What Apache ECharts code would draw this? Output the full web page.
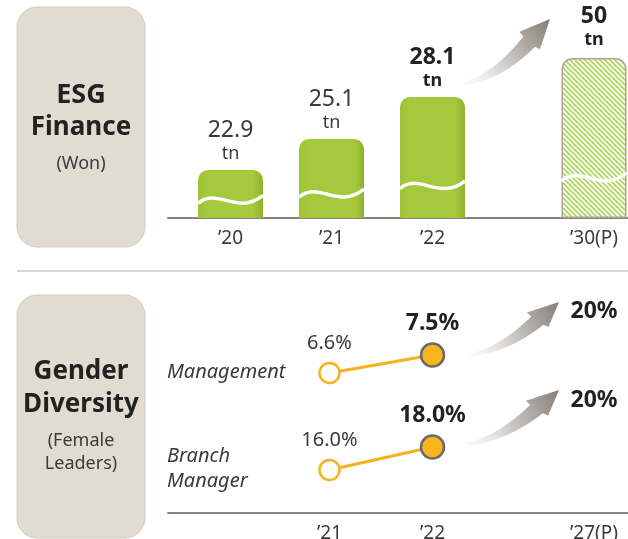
<!DOCTYPE html>
<html>
<head>
<meta charset="utf-8">
<script src="https://cdn.jsdelivr.net/npm/echarts@6.0.0/dist/echarts.min.js"></script>
<style>
  html, body { margin: 0; padding: 0; background: #fff; }
  #chart { width: 628px; height: 539px; }
</style>
</head>
<body>
<div id="chart"></div>
<script>
// ESG finance (trillion won)
const financeYears = ['’20', '’21', '’22'];
const financeValues = [22.9, 25.1, 28.1];
const financeTargetYear = ['’30(P)'];
const financeTarget = [50];
const financeUnit = 'tn';

// gender diversity (female leaders, %)
const diversityYears = ['’21', '’22'];
const managementValues = [6.6, 7.5];
const branchValues = [16.0, 18.0];
const diversityTargetYear = ['’27(P)'];
const diversityTargets = [20, 20];
const rowNames = ['Management', 'Branch\nManager'];

const FONT = '"Noto Sans", "Open Sans", sans-serif';
const TEXT = '#3a3a3a';
const DARK = '#222';
const BASE = '#8a827a';
const BAR_W = 65;

const chart = echarts.init(document.getElementById('chart'), null, { renderer: 'canvas' });

function hatch() {
  const c = document.createElement('canvas');
  c.width = 5; c.height = 5;
  const g = c.getContext('2d');
  g.fillStyle = '#f5faea';
  g.fillRect(0, 0, 5, 5);
  g.strokeStyle = '#a2cf45';
  g.lineWidth = 1.3;
  g.beginPath();
  g.moveTo(-1, -1); g.lineTo(6, 6);
  g.moveTo(-1, 4); g.lineTo(1, 6);
  g.moveTo(4, -1); g.lineTo(6, 1);
  g.stroke();
  return c;
}

// white wavy "break" line across each bar
function renderWave(params, api) {
  const top = api.coord([api.value(0), api.value(1)]);
  const cs = params.coordSys;
  const bottom = cs.y + cs.height;
  const h = bottom - top[1];
  const y0 = bottom - (8 + 0.2 * h);
  const xl = top[0] - BAR_W / 2, xr = top[0] + BAR_W / 2;
  return {
    type: 'bezierCurve',
    shape: {
      x1: xl, y1: y0 + 3,
      cpx1: xl + BAR_W * 0.3, cpy1: y0 - 14,
      cpx2: xr - BAR_W * 0.4, cpy2: y0 + 16,
      x2: xr, y2: y0 - 5
    },
    style: { stroke: '#fff', lineWidth: 3.5, fill: null }
  };
}

function quad(p0, c, p1, n) {
  const pts = [];
  for (let i = 0; i <= n; i++) {
    const t = i / n, u = 1 - t;
    pts.push([u * u * p0[0] + 2 * u * t * c[0] + t * t * p1[0],
              u * u * p0[1] + 2 * u * t * c[1] + t * t * p1[1]]);
  }
  return pts;
}

// gradient arrow, shape measured for a tail->tip of (87, -63)
function arrow(tail, tip) {
  const sx = (tip[0] - tail[0]) / 87, sy = (tip[1] - tail[1]) / -63;
  const raw = [].concat(
    quad([0, 0], [29.8, -7.4], [60.3, -45.3], 16),
    [[56.3, -50.3], [87, -63], [77, -32.7]],
    quad([72, -35.3], [39, -1.9], [2, 3], 16)
  );
  return {
    type: 'polygon',
    shape: { points: raw.map(p => [tail[0] + p[0] * sx, tail[1] + p[1] * sy]) },
    style: {
      fill: new echarts.graphic.LinearGradient(0, 1, 1, 0, [
        { offset: 0, color: 'rgba(242,240,237,0.3)' },
        { offset: 0.45, color: '#cdc9c4' },
        { offset: 1, color: '#857e77' }
      ])
    }
  };
}

function txt(text, x, y, size, weight, align, style) {
  return {
    type: 'text',
    style: {
      text: text, x: x, y: y,
      fontSize: size, fontWeight: weight || 'normal', fontStyle: style || 'normal',
      fontFamily: FONT, fill: weight === 'bold' ? DARK : TEXT,
      textAlign: align || 'center', align: align || 'center',
      textVerticalAlign: 'middle', verticalAlign: 'middle', lineHeight: 25
    }
  };
}

const barFill = new echarts.graphic.LinearGradient(0, 0, 1, 0, [
  { offset: 0, color: '#9cc236' },
  { offset: 0.12, color: '#a5c93c' },
  { offset: 0.85, color: '#a5c93c' },
  { offset: 1, color: '#8fb22f' }
]);

const barRich = {
  v: { fontSize: 23, lineHeight: 26, color: TEXT, fontFamily: FONT },
  u: { fontSize: 18, lineHeight: 22, color: TEXT, fontFamily: FONT },
  vb: { fontSize: 23, lineHeight: 26, color: DARK, fontFamily: FONT, fontWeight: 'bold' },
  ub: { fontSize: 18, lineHeight: 22, color: DARK, fontFamily: FONT, fontWeight: 'bold' }
};

const pctRich = {
  r: { fontSize: 20, lineHeight: 24, color: TEXT, fontFamily: FONT },
  b: { fontSize: 23, lineHeight: 26, color: DARK, fontFamily: FONT, fontWeight: 'bold' }
};

const openDot = { color: '#fff', borderColor: '#f5b320', borderWidth: 2.5 };
const fullDot = { color: '#f8b51c', borderColor: '#6a6a6a', borderWidth: 2.5 };

function lineData(values) {
  return values.map((v, i) => ({
    value: v,
    symbolSize: i ? 23 : 20,
    itemStyle: i ? fullDot : openDot
  }));
}

const lineLabel = {
  show: true, position: 'top', distance: 6,
  formatter: p => p.dataIndex ? `{b|${p.value.toFixed(1)}%}` : `{r|${p.value.toFixed(1)}%}`,
  rich: pctRich
};

const hidden = { show: false };
const catAxis = (grid, data, labels) => ({
  gridIndex: grid, type: 'category', data: data,
  axisLine: hidden, axisTick: hidden, splitLine: hidden,
  axisLabel: { show: labels, color: TEXT, fontSize: 19, fontFamily: FONT, margin: 11 }
});
const baseAxis = grid => ({
  gridIndex: grid, type: 'value', min: 0, max: 1,
  axisLine: { show: true, lineStyle: { color: BASE, width: 2 } },
  axisTick: hidden, axisLabel: hidden, splitLine: hidden
});
const yHidden = (grid, min, max) => ({
  gridIndex: grid, type: 'value', min: min, max: max, show: false, splitLine: hidden
});
const g = (o) => Object.assign({ outerBoundsMode: 'none', containLabel: false }, o);

const option = {
  animation: false,
  backgroundColor: '#fff',
  grid: [
    g({ left: 168, right: 0, top: 100, height: 118 }),
    g({ left: 180, width: 303, top: 58, height: 160 }),
    g({ left: 561, width: 66, top: 58, height: 160 }),
    g({ left: 168, right: 0, top: 400, height: 113 }),
    g({ left: 278, width: 206, top: 300, height: 100 }),
    g({ left: 278, width: 206, top: 400, height: 113 }),
    g({ left: 557, width: 74, top: 400, height: 113 })
  ],
  xAxis: [
    baseAxis(0),
    catAxis(1, financeYears, true),
    catAxis(2, financeTargetYear, true),
    baseAxis(3),
    catAxis(4, diversityYears, false),
    catAxis(5, diversityYears, true),
    catAxis(6, diversityTargetYear, true)
  ],
  yAxis: [
    yHidden(0, 0, 1),
    yHidden(1, 19.48, 30.88),
    yHidden(2, 0, 50),
    yHidden(3, 0, 1),
    yHidden(4, 5.25, 10.25),
    yHidden(5, 12.26, 22.09),
    yHidden(6, 0, 1)
  ],
  series: [
    {
      type: 'bar', xAxisIndex: 1, yAxisIndex: 1, barWidth: BAR_W, z: 2,
      data: financeValues,
      itemStyle: { color: barFill, borderRadius: [10, 10, 0, 0] },
      label: {
        show: true, position: 'top', distance: 5,
        formatter: p => p.dataIndex === financeValues.length - 1
          ? `{vb|${p.value}}\n{ub|${financeUnit}}` : `{v|${p.value}}\n{u|${financeUnit}}`,
        rich: barRich
      }
    },
    {
      type: 'custom', xAxisIndex: 1, yAxisIndex: 1, z: 3, silent: true,
      data: financeValues.map((v, i) => [i, v]),
      renderItem: renderWave
    },
    {
      type: 'bar', xAxisIndex: 2, yAxisIndex: 2, barWidth: BAR_W, z: 2,
      data: financeTarget,
      itemStyle: {
        color: { image: hatch(), repeat: 'repeat' },
        borderColor: '#aaa49c', borderWidth: 1.5, borderRadius: [10, 10, 0, 0]
      },
      label: {
        show: true, position: 'top', distance: 7,
        formatter: p => `{vb|${p.value}}\n{ub|${financeUnit}}`,
        rich: barRich
      }
    },
    {
      type: 'custom', xAxisIndex: 2, yAxisIndex: 2, z: 3, silent: true,
      data: financeTarget.map((v, i) => [i, v]),
      renderItem: renderWave
    },
    {
      type: 'line', xAxisIndex: 4, yAxisIndex: 4, symbol: 'circle', showAllSymbol: true,
      data: lineData(managementValues),
      lineStyle: { color: '#f4b21b', width: 3 },
      label: lineLabel
    },
    {
      type: 'line', xAxisIndex: 5, yAxisIndex: 5, symbol: 'circle', showAllSymbol: true,
      data: lineData(branchValues),
      lineStyle: { color: '#f4b21b', width: 3 },
      label: lineLabel
    }
  ],
  graphic: [
    { type: 'rect', shape: { x: 17, y: 7, width: 128, height: 240, r: 20 },
      style: { fill: '#e1dbd2', stroke: '#d3ccc2', lineWidth: 1 } },
    { type: 'rect', shape: { x: 17, y: 295, width: 128, height: 243, r: 20 },
      style: { fill: '#e1dbd2', stroke: '#d3ccc2', lineWidth: 1 } },
    { type: 'line', shape: { x1: 17, y1: 271, x2: 628, y2: 271 },
      style: { stroke: '#dcd6cd', lineWidth: 2 } },
    txt('ESG', 81, 95, 27, 'bold'),
    txt('Finance', 81, 128, 26, 'bold'),
    txt('(Won)', 81, 164, 18),
    txt('Gender', 81, 372, 26, 'bold'),
    txt('Diversity', 81, 405, 26, 'bold'),
    txt('(Female', 81, 441, 18),
    txt('Leaders)', 81, 464, 18),
    txt(rowNames[0], 167, 372, 20, 'normal', 'left', 'italic'),
    txt(rowNames[1], 167, 469, 20, 'normal', 'left', 'italic'),
    txt(diversityTargets[0] + '%', 594, 311, 23, 'bold'),
    txt(diversityTargets[1] + '%', 594, 400, 23, 'bold'),
    arrow([463, 82], [550, 19]),
    arrow([468, 354], [559, 302]),
    arrow([465, 443], [559, 390])
  ]
};

chart.setOption(option);
</script>
</body>
</html>
